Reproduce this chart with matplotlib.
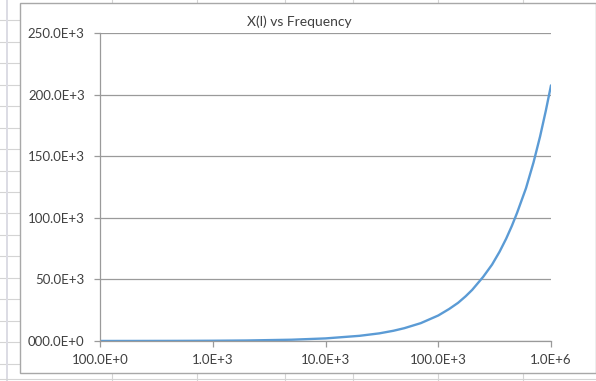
import matplotlib
matplotlib.use("Agg")
import matplotlib.pyplot as plt
from matplotlib.lines import Line2D
from matplotlib.patches import Rectangle

# Inductive reactance of the coil over frequency
frequency_hz = [100, 200, 500, 1e3, 2e3, 5e3, 10e3, 20e3, 30e3, 40e3, 50e3,
                70e3, 100e3, 125e3, 150e3, 175e3, 200e3, 250e3, 300e3, 350e3,
                400e3, 450e3, 500e3, 600e3, 700e3, 800e3, 900e3, 1e6]
reactance_ohm = [21, 42, 104, 207, 415, 1.04e3, 2.1e3, 4.2e3, 6.2e3, 8.3e3, 10.4e3,
                 14.5e3, 20.7e3, 26.0e3, 31.0e3, 36.3e3, 41.5e3, 52.0e3, 62.0e3, 72.5e3,
                 83.0e3, 93.5e3, 104.0e3, 124.0e3, 145.0e3, 166.0e3, 187.0e3, 207.5e3]

x_ticks = [1e2, 1e3, 1e4, 1e5, 1e6]
x_tick_labels = ["100.0E+0", "1.0E+3", "10.0E+3", "100.0E+3", "1.0E+6"]
y_ticks = [0, 50e3, 100e3, 150e3, 200e3, 250e3]
y_tick_labels = ["000.0E+0", "50.0E+3", "100.0E+3", "150.0E+3", "200.0E+3", "250.0E+3"]
title = "X(l) vs Frequency"

W, H = 596, 381
fig = plt.figure(figsize=(W / 100, H / 100), dpi=100)
fig.patch.set_facecolor("white")

def px(x, y):
    return x / W, 1 - y / H

# spreadsheet cells around the chart
cell = "#d4d4d4"
for y in [20, 41.5, 63, 84.5, 106, 128, 149, 171, 192, 213, 235, 256, 278, 299, 321, 342, 364]:
    fig.add_artist(Line2D([0, 19 / W], [1 - y / H] * 2, color=cell, lw=0.8, zorder=-3))
fig.add_artist(Rectangle(px(5.5, 381), 2.5 / W, 1, color="#dcdce4", lw=0, zorder=-3))
for x in [112, 197, 285, 353, 438, 523]:
    fig.add_artist(Line2D([x / W] * 2, [0, 1 - 374 / H], color=cell, lw=0.8, zorder=-3))
    fig.add_artist(Line2D([x / W] * 2, [1 - 2 / H, 1], color=cell, lw=0.8, zorder=-3))
fig.add_artist(Line2D([0, 1], [1 - 379 / H] * 2, color=cell, lw=0.8, zorder=-3))

# chart area
fig.add_artist(Rectangle(px(20, 373), (W - 20) / W, 370 / H, facecolor="white",
                         edgecolor="#a8a8a8", lw=1.0, zorder=-2))

font = ["Lato", "DejaVu Sans"]
txt = "#404040"

left, right, top, bottom = 100, 551, 33, 341
ax = fig.add_axes([left / W, 1 - bottom / H, (right - left) / W, (bottom - top) / H])
ax.set_facecolor("none")
ax.plot(frequency_hz, reactance_ohm, color="#5B9BD5", lw=1.7,
        solid_capstyle="round", solid_joinstyle="round")
ax.set_xscale("log")
ax.set_xlim(1e2, 1e6)
ax.set_ylim(0, 250e3)
ax.set_xticks(x_ticks)
ax.set_xticklabels(x_tick_labels)
ax.set_yticks(y_ticks)
ax.set_yticklabels(y_tick_labels)
ax.minorticks_off()
ax.yaxis.grid(True, color="#9a9a9a", lw=0.9)
ax.set_axisbelow(True)
for s in ["top", "right"]:
    ax.spines[s].set_visible(False)
for s in ["left", "bottom"]:
    ax.spines[s].set_color("#9a9a9a")
    ax.spines[s].set_linewidth(0.9)
ax.tick_params(axis="both", colors="#9a9a9a", length=4, width=0.9,
               labelcolor=txt, labelsize=9.5)
ax.tick_params(axis="y", pad=7)
ax.tick_params(axis="x", pad=5)
for lab in ax.get_xticklabels() + ax.get_yticklabels():
    lab.set_fontfamily(font)

fig.text(299 / W, 1 - 22 / H, title, ha="center", va="center", fontsize=10,
         color=txt, family=font)

fig.savefig("out.png", dpi=100, facecolor="white")
